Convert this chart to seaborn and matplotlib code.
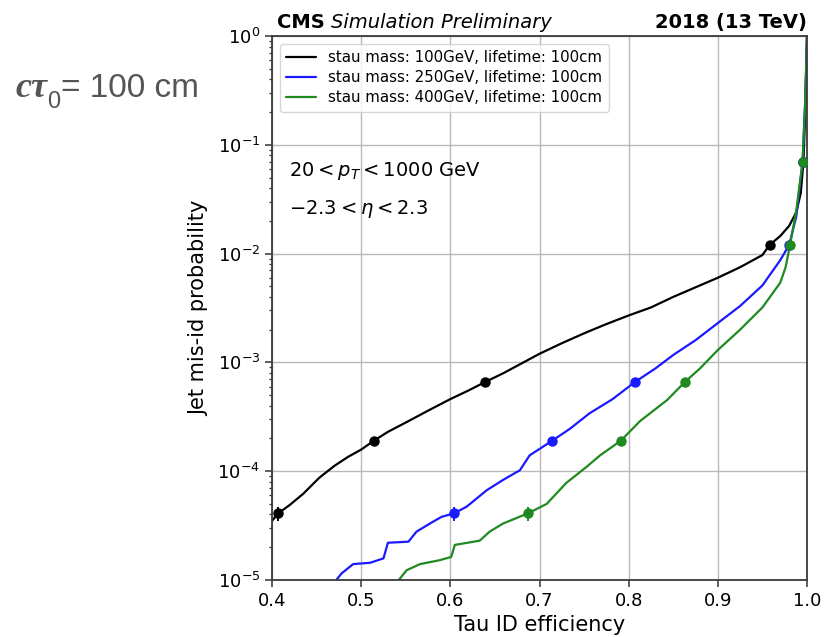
import numpy as np
import pandas as pd
import matplotlib
matplotlib.use("Agg")
import matplotlib.pyplot as plt
from matplotlib.transforms import IdentityTransform
import seaborn as sns

# ROC curves: tau ID efficiency vs jet mis-id probability
labels = [
    "stau mass: 100GeV, lifetime: 100cm",
    "stau mass: 250GeV, lifetime: 100cm",
    "stau mass: 400GeV, lifetime: 100cm",
]
colors = ["black", "#1a1aff", "#1f8a1f"]

eff_100 = [0.400, 0.407, 0.420, 0.435, 0.453, 0.470, 0.485, 0.500, 0.514, 0.530,
           0.550, 0.575, 0.600, 0.620, 0.639, 0.660, 0.680, 0.700, 0.725, 0.750,
           0.775, 0.800, 0.825, 0.850, 0.875, 0.900, 0.925, 0.950, 0.958, 0.970,
           0.980, 0.988, 0.993, 0.996, 0.998, 0.999, 1.000]
fake_100 = [3.5e-5, 4.1e-5, 4.9e-5, 6.2e-5, 8.7e-5, 1.12e-4, 1.35e-4, 1.58e-4, 1.9e-4, 2.3e-4,
            2.8e-4, 3.6e-4, 4.6e-4, 5.5e-4, 6.6e-4, 8.0e-4, 9.8e-4, 1.2e-3, 1.5e-3, 1.85e-3,
            2.25e-3, 2.7e-3, 3.2e-3, 4.0e-3, 4.9e-3, 6.0e-3, 7.5e-3, 9.7e-3, 1.2e-2, 1.45e-2,
            1.8e-2, 2.4e-2, 3.6e-2, 6.9e-2, 0.2, 0.45, 1.0]

eff_250 = [0.470, 0.478, 0.491, 0.510, 0.525, 0.530, 0.553, 0.562, 0.577, 0.590,
           0.604, 0.618, 0.641, 0.659, 0.678, 0.689, 0.714, 0.734, 0.756, 0.782,
           0.807, 0.830, 0.850, 0.875, 0.900, 0.925, 0.950, 0.970, 0.980, 0.988,
           0.995, 0.998, 1.000]
fake_250 = [9.5e-6, 1.15e-5, 1.4e-5, 1.44e-5, 1.58e-5, 2.2e-5, 2.25e-5, 2.78e-5, 3.3e-5, 3.8e-5,
            4.1e-5, 4.7e-5, 6.7e-5, 8.3e-5, 1.02e-4, 1.4e-4, 1.9e-4, 2.45e-4, 3.4e-4, 4.6e-4,
            6.6e-4, 8.8e-4, 1.17e-3, 1.6e-3, 2.3e-3, 3.3e-3, 5.1e-3, 8.7e-3, 1.2e-2, 2.2e-2,
            6.9e-2, 0.25, 1.0]

eff_400 = [0.540, 0.551, 0.566, 0.588, 0.601, 0.605, 0.633, 0.644, 0.659, 0.687,
           0.708, 0.730, 0.753, 0.768, 0.791, 0.813, 0.843, 0.863, 0.880, 0.900,
           0.925, 0.950, 0.970, 0.976, 0.981, 0.988, 0.995, 0.998, 1.000]
fake_400 = [9.5e-6, 1.23e-5, 1.4e-5, 1.52e-5, 1.63e-5, 2.1e-5, 2.3e-5, 2.78e-5, 3.3e-5, 4.1e-5,
            5.0e-5, 7.8e-5, 1.1e-4, 1.4e-4, 1.9e-4, 2.9e-4, 4.5e-4, 6.6e-4, 8.8e-4, 1.3e-3,
            2.0e-3, 3.2e-3, 5.4e-3, 7.5e-3, 1.2e-2, 2.5e-2, 6.9e-2, 0.25, 1.0]

# Working points (with statistical uncertainty on the mis-id rate)
wp_fake = [4.1e-5, 1.9e-4, 6.6e-4, 1.2e-2, 6.9e-2]
wp_rel_err = [0.15, 0.06, 0.03, 0.01, 0.005]
wp_eff_100 = [0.407, 0.514, 0.639, 0.958, 0.996]
wp_eff_250 = [0.604, 0.714, 0.807, 0.980, 0.995]
wp_eff_400 = [0.687, 0.791, 0.863, 0.981, 0.995]

xticks = [0.4, 0.5, 0.6, 0.7, 0.8, 0.9, 1.0]

curves = pd.concat([
    pd.DataFrame({"eff": e, "fake": f, "sample": lab})
    for e, f, lab in zip([eff_100, eff_250, eff_400],
                         [fake_100, fake_250, fake_400], labels)
], ignore_index=True)

sns.set_theme(style="ticks")
plt.rcParams["font.family"] = ["DejaVu Sans"]
plt.rcParams.update({"text.color": "black", "axes.labelcolor": "black",
                     "xtick.color": "black", "ytick.color": "black"})

W, H = 825, 637
fig = plt.figure(figsize=(W / 100, H / 100), dpi=100)
ax = fig.add_axes([272 / W, 1 - 580 / H, (807 - 272) / W, (580 - 36) / H])

sns.lineplot(data=curves, x="eff", y="fake", hue="sample", palette=colors,
             hue_order=labels, estimator=None, sort=False, lw=1.6, ax=ax)

for wx, col in zip([wp_eff_100, wp_eff_250, wp_eff_400], colors):
    yerr = np.array(wp_fake) * np.array(wp_rel_err)
    ax.errorbar(wx, wp_fake, yerr=yerr, fmt="o", color=col, ms=6.5,
                elinewidth=1.4, capsize=0, zorder=5)

ax.set_yscale("log")
ax.set_xlim(0.4, 1.0)
ax.set_ylim(1e-5, 1.0)
ax.set_xticks(xticks)
ax.set_xticklabels([f"{v:.1f}" for v in xticks])
ax.grid(True, which="major", color="#b8b8b8", lw=1.0)
ax.tick_params(axis="both", which="major", labelsize=13, length=5, width=1.1,
               color="#333333", labelcolor="black")
ax.tick_params(axis="y", which="minor", length=2.5, width=0.9, color="#333333")
for sp in ax.spines.values():
    sp.set_color("#3a3a3a")
    sp.set_linewidth(1.3)

ax.set_xlabel("Tau ID efficiency", fontsize=15, labelpad=4)
ax.set_ylabel("Jet mis-id probability", fontsize=15, labelpad=6)

leg = ax.legend(loc="upper left", fontsize=10.8, frameon=True, framealpha=0.8,
                borderaxespad=0.5, handlelength=2.0, labelspacing=0.32,
                borderpad=0.45)
leg.set_title(None)
for txt in leg.get_texts():
    txt.set_color("black")

ax.text(0.032, 0.743, r"$20 < p_T < 1000$ GeV", transform=ax.transAxes,
        fontsize=14, va="baseline")
ax.text(0.032, 0.673, r"$-2.3 < \eta < 2.3$", transform=ax.transAxes,
        fontsize=14, va="baseline")

# Experiment header above the frame
pix = IdentityTransform()
renderer = fig.canvas.get_renderer()
base = H - 28
t_cms = fig.text(277, base, "CMS", transform=pix, fontsize=14, fontweight="bold",
                 va="baseline")
wcms = t_cms.get_window_extent(renderer).width
fig.text(277 + wcms + 6, base, "Simulation Preliminary", transform=pix, fontsize=14,
         fontstyle="italic", va="baseline")
fig.text(807, base, "2018 (13 TeV)", transform=pix, fontsize=14, fontweight="bold",
         va="baseline", ha="right")

# Lifetime tag on the left
grey = "#555555"
base2 = H - 97
t1 = fig.text(15, base2, "cτ", transform=pix, fontsize=26, family="Liberation Serif",
              fontweight="bold", fontstyle="italic", color=grey, va="baseline")
x1 = 15 + t1.get_window_extent(renderer).width
t2 = fig.text(x1, base2 - 11, "0", transform=pix, fontsize=17, family="Liberation Sans",
              color=grey, va="baseline")
x2 = x1 + t2.get_window_extent(renderer).width
fig.text(x2 + 1, base2, "= 100 cm", transform=pix, fontsize=24, family="Liberation Sans",
         color=grey, va="baseline")

fig.savefig("out.png", dpi=100)
